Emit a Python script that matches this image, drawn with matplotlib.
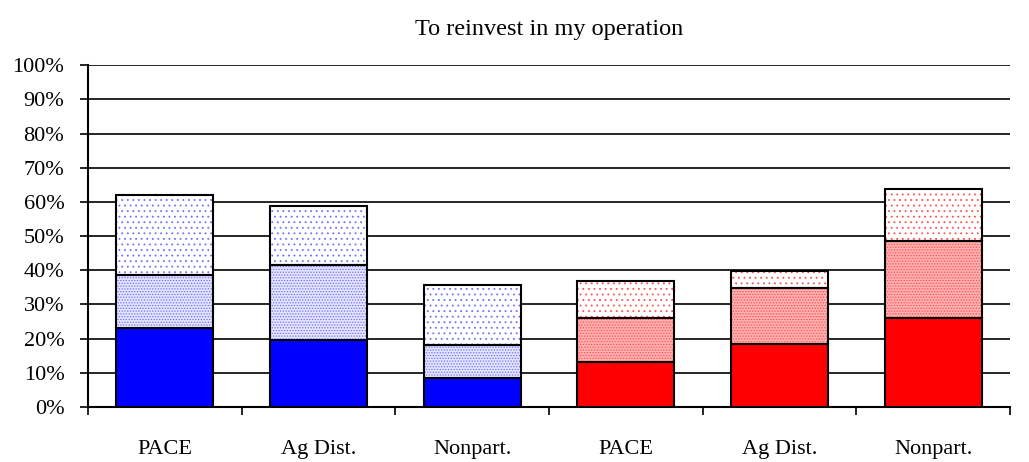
import numpy as np
import matplotlib.pyplot as plt

# values (percent), stacked bottom -> top
labels = ['PACE', 'Ag Dist.', 'Nonpart.', 'PACE', 'Ag Dist.', 'Nonpart.']
seg1 = [23.1, 19.6, 8.5, 13.1, 18.4, 26.0]
seg2 = [15.5, 21.9, 9.7, 12.9, 16.4, 22.5]
seg3 = [23.4, 17.4, 17.4, 10.9, 5.1, 15.2]
colors = ['#0000ff', '#0000ff', '#0000ff', '#ff0000', '#ff0000', '#ff0000']
dots = ['#7070ff', '#7070ff', '#7070ff', '#ff5050', '#ff5050', '#ff5050']
light = ['#e4e4ff', '#e4e4ff', '#e4e4ff', '#ffb0b0', '#ffb0b0', '#ffb0b0']

plt.rcParams['font.family'] = ['Liberation Serif', 'DejaVu Serif']
plt.rcParams['hatch.linewidth'] = 0.6

fig = plt.figure(figsize=(10.29, 4.62), dpi=100)
ax = fig.add_axes([0.0855, 0.119, 0.8960, 0.740])

x = np.arange(len(labels))
w = 0.63
s1 = np.array(seg1)
s2 = np.array(seg2)
s3 = np.array(seg3)

for i in range(len(labels)):
    # solid bottom
    ax.bar(x[i], s1[i], w, color=colors[i], edgecolor='black', linewidth=1.5, zorder=3)
    # dense dots middle
    ax.bar(x[i], s2[i], w, bottom=s1[i], color=light[i], edgecolor=dots[i],
           hatch='......', linewidth=0, zorder=3)
    ax.bar(x[i], s2[i], w, bottom=s1[i], fill=False, edgecolor='black', linewidth=1.5, zorder=4)
    # sparse dots top
    ax.bar(x[i], s3[i], w, bottom=s1[i] + s2[i], color='white', edgecolor=dots[i],
           hatch='...', linewidth=0, zorder=3)
    ax.bar(x[i], s3[i], w, bottom=s1[i] + s2[i], fill=False, edgecolor='black', linewidth=1.5, zorder=4)

ax.set_xlim(-0.5, len(labels) - 0.5)
ax.set_ylim(0, 100)
ax.set_yticks(np.arange(0, 101, 10))
ax.set_yticklabels([f'{v}%' for v in range(0, 101, 10)], fontsize=16)
ax.yaxis.grid(True, color='black', linewidth=1.2, zorder=0)
ax.set_axisbelow(True)

ax.set_xticks(np.arange(-0.5, len(labels), 1.0))
ax.set_xticklabels([])
ax.set_xticks(x, minor=True)
ax.set_xticklabels(labels, minor=True, fontsize=16)
ax.tick_params(axis='x', which='minor', length=0, pad=24)
ax.tick_params(axis='x', which='major', length=6, width=1.2, direction='out')
ax.tick_params(axis='y', length=6, width=1.2, direction='out', pad=11)

for sp in ['top', 'right']:
    ax.spines[sp].set_visible(False)
for sp in ['left', 'bottom']:
    ax.spines[sp].set_linewidth(1.5)

ax.set_title('To reinvest in my operation', fontsize=17.5, pad=22)

fig.savefig('out.png', dpi=100)
